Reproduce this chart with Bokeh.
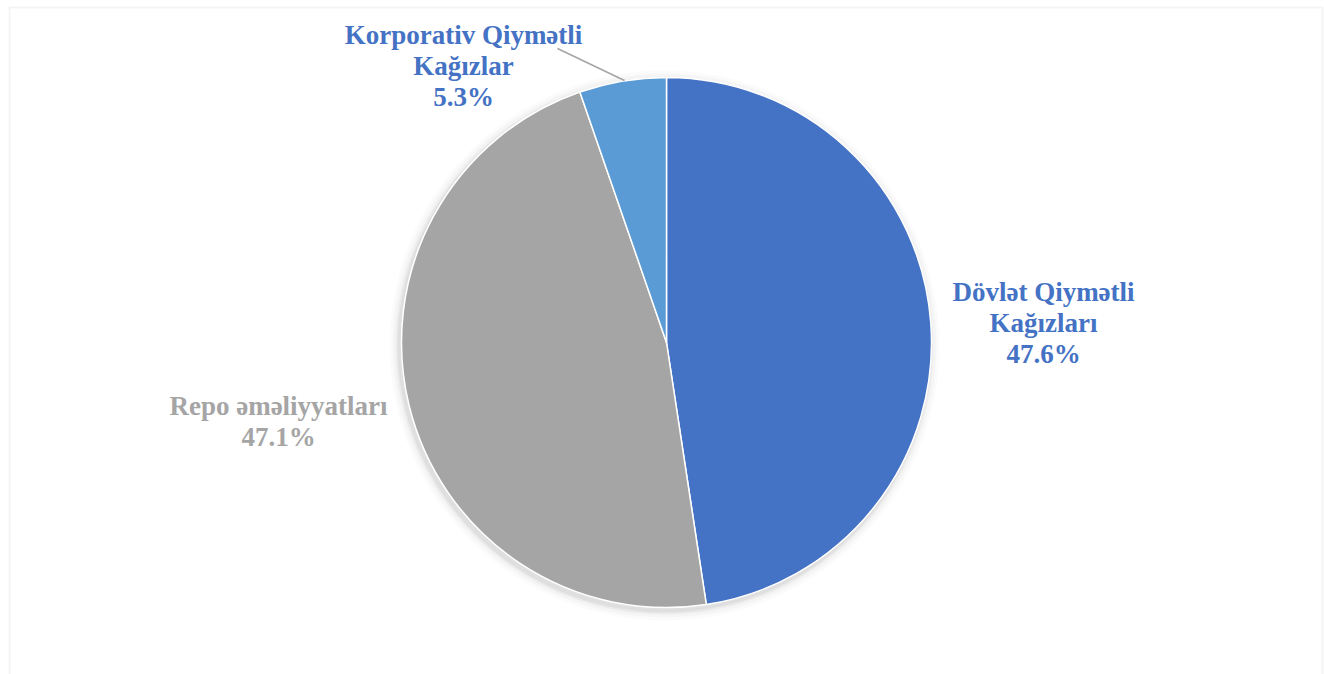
import numpy as np
from bokeh.plotting import figure
from bokeh.models import Range1d, BoxAnnotation
from bokeh.core.properties import value
from bokeh.embed import file_html
from bokeh.resources import INLINE

# ---- data ----
categories = ["Dövlət Qiymətli Kağızları", "Repo əməliyyatları", "Korporativ Qiymətli Kağızlar"]
shares = [47.6, 47.1, 5.3]
label_lines = [["Dövlət Qiymətli", "Kağızları", "47.6%"],
               ["Repo əməliyyatları", "47.1%"],
               ["Korporativ Qiymətli", "Kağızlar", "5.3%"]]
colors = ["#4472C4", "#A5A5A5", "#5B9BD5"]
label_colors = ["#4472C4", "#A5A5A5", "#4472C4"]

W, H = 1324, 674

def px(x):  # page x -> data x
    return x

def py(y):  # page y -> data y
    return H - y

p = figure(width=W, height=H, output_backend="svg", toolbar_location=None,
           x_range=Range1d(0, W), y_range=Range1d(0, H), min_border=0)
p.axis.visible = False
p.grid.visible = False
p.outline_line_color = None
p.background_fill_color = "white"
p.border_fill_color = "white"

# frame border (light grey, bottom runs off page)
p.add_layout(BoxAnnotation(left=px(9), right=px(1322), top=py(7), bottom=-20,
                           fill_color=None, line_color="#d9d9d9", line_width=2))

cx, cy, R = px(666), py(342), 265

# soft shadow
for k, a in [(10, 0.015), (7, 0.025), (4, 0.04), (2, 0.05)]:
    p.circle(x=[cx - 2], y=[cy - 3], radius=R + k, fill_color="black",
             fill_alpha=a, line_color=None)

fr = np.array(shares) / sum(shares)
cum = np.concatenate([[0], np.cumsum(fr)])
starts = np.pi / 2 - cum[:-1] * 2 * np.pi
ends = np.pi / 2 - cum[1:] * 2 * np.pi
p.wedge(x=[cx] * 3, y=[cy] * 3, radius=R, start_angle=list(starts), end_angle=list(ends),
        direction="clock", fill_color=colors, line_color="white", line_width=1.5)

# label layout (page coords of the first line centre, line spacing)
label_pos = [(1043, 291, 31), (278, 405, 31), (463, 34, 31)]
for lines, col, (lx, ly, ls) in zip(label_lines, label_colors, label_pos):
    xs = [px(lx)] * len(lines)
    ys = [py(ly + i * ls) for i in range(len(lines))]
    p.text(x=xs, y=ys, text=lines, text_align="center", text_baseline="middle",
           text_font=value("Liberation Serif"), text_font_style="bold",
           text_font_size="27px", text_color=col)

# leader line for small slice
p.line(x=[px(557), px(624)], y=[py(48), py(80)], line_color="#A5A5A5", line_width=1.5)

open("out.html", "w").write(file_html(p, INLINE))
